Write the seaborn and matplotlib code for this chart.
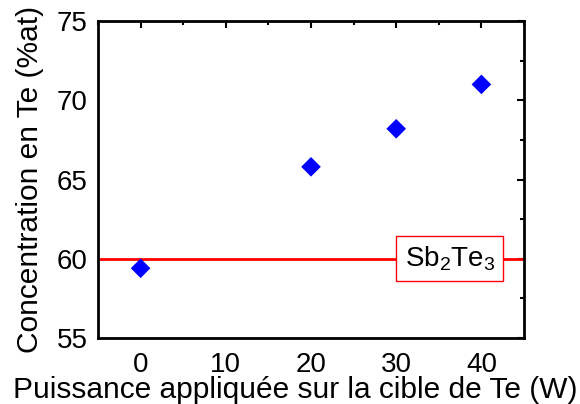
import matplotlib
matplotlib.use("Agg")
import matplotlib.pyplot as plt
import seaborn as sns
import pandas as pd
from matplotlib.ticker import MultipleLocator

power = [0, 20, 30, 40]
te_conc = [59.4, 65.8, 68.2, 71.0]
ref_level = 60
ref_label = "Sb$_2$Te$_3$"
x_label = "Puissance appliquée sur la cible de Te (W)"
y_label = "Concentration en Te (%at)"

sns.set_theme(style="white")
plt.rcParams['font.family'] = ['Liberation Sans', 'DejaVu Sans']
plt.rcParams['mathtext.fontset'] = 'custom'
plt.rcParams['mathtext.rm'] = 'Liberation Sans'
plt.rcParams['mathtext.it'] = 'Liberation Sans'
plt.rcParams['text.color'] = 'black'
plt.rcParams['axes.labelcolor'] = 'black'
plt.rcParams['xtick.color'] = 'black'
plt.rcParams['ytick.color'] = 'black'

df = pd.DataFrame({"power": power, "te": te_conc})

fig = plt.figure(figsize=(5.8, 4.04), dpi=100)
ax = fig.add_axes([98/580, 1-338/404, (524-98)/580, (338-21)/404])

ax.axhline(ref_level, color="#ff0000", lw=2, zorder=1)
sns.scatterplot(data=df, x="power", y="te", marker="D", s=100, color="#0000ff",
                edgecolor="none", ax=ax, zorder=3)

ax.text(36.3, ref_level, ref_label, fontsize=20, ha="center", va="center",
        bbox=dict(boxstyle="square,pad=0.3", facecolor="white", edgecolor="#ff0000", lw=1))

ax.set_xlim(-5, 45)
ax.set_ylim(55, 75)
ax.xaxis.set_major_locator(MultipleLocator(10))
ax.xaxis.set_minor_locator(MultipleLocator(5))
ax.yaxis.set_major_locator(MultipleLocator(5))
ax.yaxis.set_minor_locator(MultipleLocator(2.5))
ax.tick_params(which="both", direction="in", top=True, right=True, labelsize=20,
               color="black", width=1.5)
ax.tick_params(which="major", length=5)
ax.tick_params(which="minor", length=3)
ax.tick_params(axis="x", which="major", pad=10)
ax.tick_params(axis="y", which="major", pad=7.5)
for s in ax.spines.values():
    s.set_color("black")
    s.set_linewidth(2)
ax.set_xlabel(x_label, fontsize=21.5, labelpad=-1)
ax.xaxis.label.set_x((295 - 98) / 426)
ax.set_ylabel(y_label, fontsize=21.5, labelpad=9)

fig.savefig("out.png", dpi=100)
